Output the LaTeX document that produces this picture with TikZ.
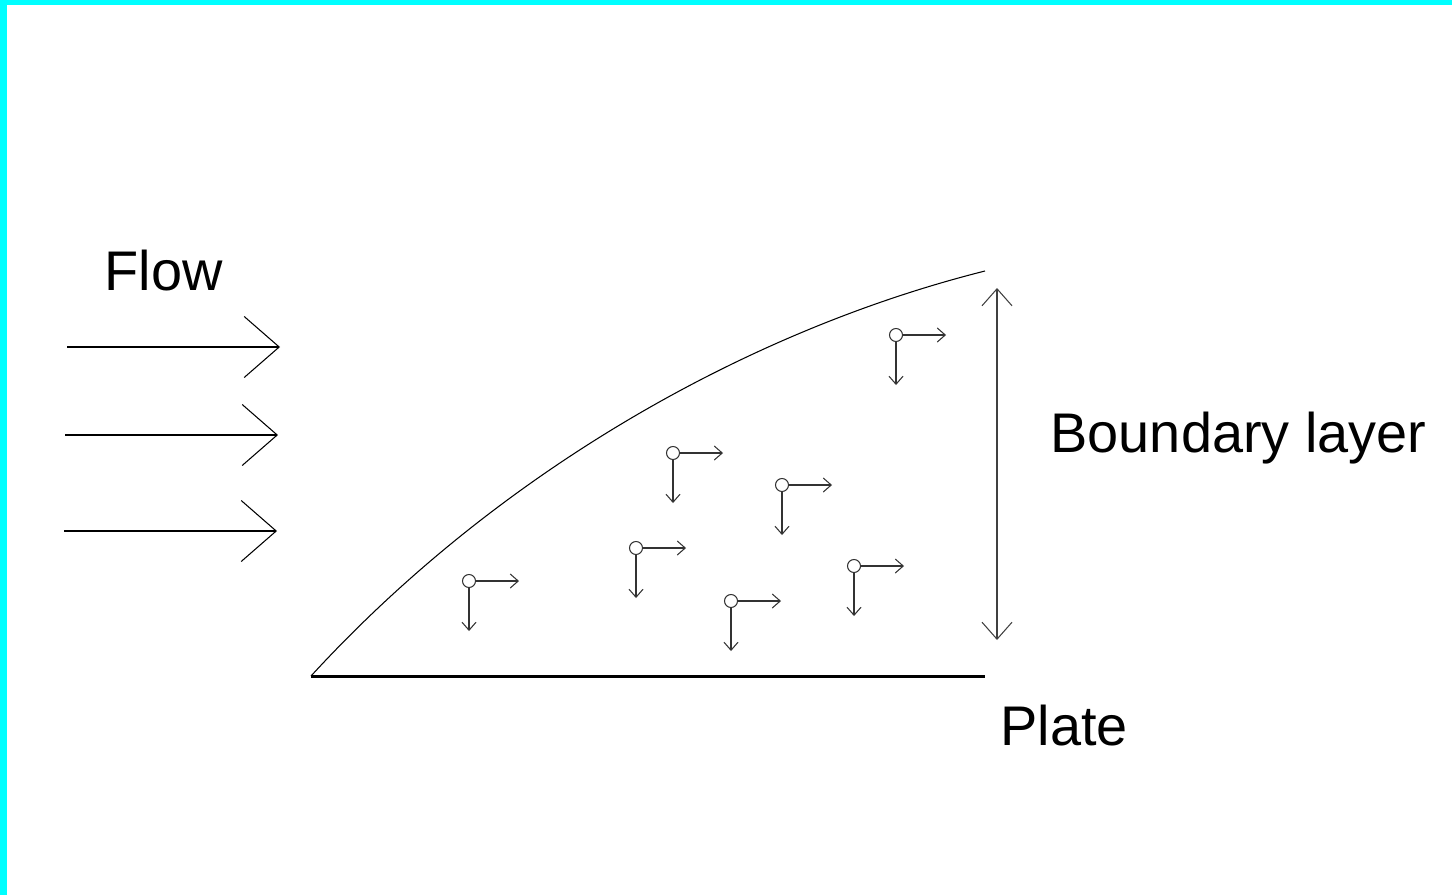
\documentclass[tikz,border=0pt]{standalone}
\usepackage{fontspec}
\setmainfont{Liberation Sans}
\usetikzlibrary{arrows.meta}
\definecolor{frame}{HTML}{00FFFF}

\begin{document}
\begin{tikzpicture}[
  x={(0.02cm,0)},y={(0,-0.02cm)},
  line width=.6pt,
  label/.style={font=\fontsize{31.8}{38}\selectfont,inner sep=0pt,anchor=base west},
  flow/.style={-{Straight Barb[length=0.7cm,width=1.22cm,line width=.6pt]}},
  extent/.style={{Straight Barb[length=0.34cm,width=0.6cm,line width=.6pt]}-{Straight Barb[length=0.34cm,width=0.6cm,line width=.6pt]},draw=black!75},
  velo/.style={-{Straight Barb[length=0.16cm,width=0.28cm,line width=.6pt]},draw=black!80},
  particle/.style={circle,draw=black!80,fill=white,minimum size=0.26cm,inner sep=0pt},
  plate/.style={line width=1.7pt}]
\useasboundingbox (0,0) rectangle (1452,895);
\fill[frame] (0,0) rectangle (1452,5);
\fill[frame] (0,0) rectangle (7,895);
% labels
\node[label] (flowtext) at (104,290) {Flow};
\node[label] (bltext) at (1050,452) {Boundary layer};
\node[label] (platetext) at (1000,745) {Plate};
% incoming flow
\foreach \i/\xa/\xb/\yy in {1/67/280/347,2/65/278/435,3/64/277/531}{
  \coordinate (in\i) at (\xa,\yy);
  \coordinate (out\i) at (\xb,\yy);
  \draw[flow] (in\i) -- (out\i);
}
% plate and layer edge
\coordinate (lead) at (311,676);
\coordinate (trail) at (985,676);
\coordinate (edge) at (985,271);
\draw[plate] (lead) -- (trail);
\draw (lead) .. controls (500,470) and (750,330) .. (edge);
% thickness
\coordinate (bltop) at (997,288);
\coordinate (blbot) at (997,640);
\draw[extent] (bltop) -- (blbot);
% fluid particles
\foreach \i/\px/\py in {1/469/581,2/636/548,3/673/453,4/731/601,5/782/485,6/854/566,7/896/335}{
  \node[particle] (p\i) at (\px,\py) {};
  \draw[velo] (p\i.east) -- ++(43,0);
  \draw[velo] (p\i.south) -- ++(0,43);
}
\end{tikzpicture}
\end{document}
